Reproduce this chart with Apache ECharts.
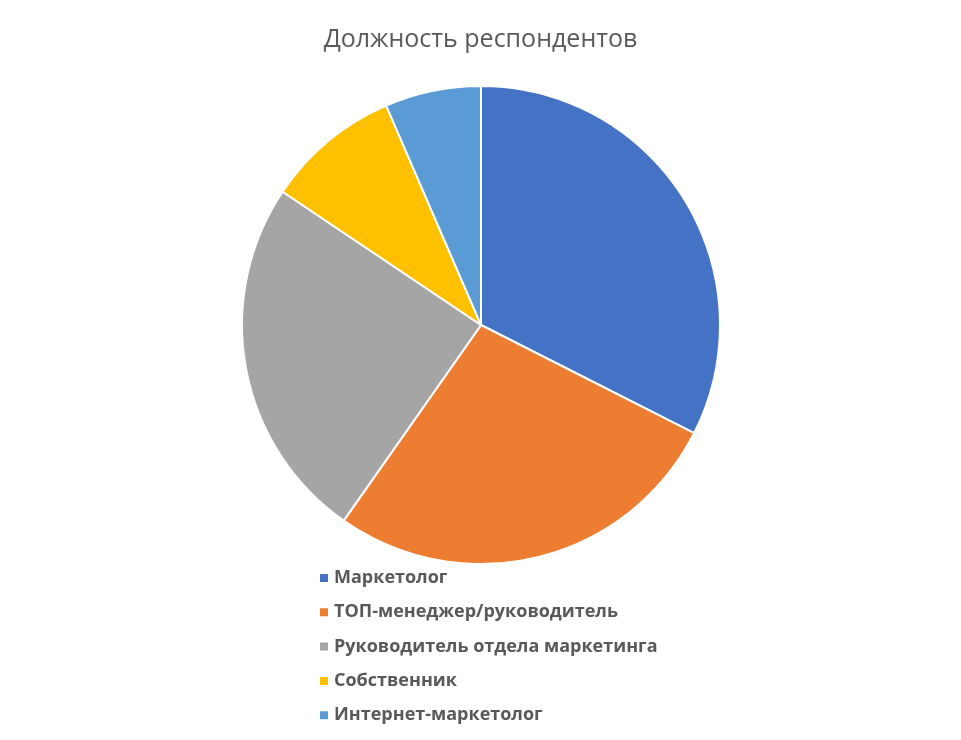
<!DOCTYPE html>
<html>
<head>
<meta charset="utf-8">
<script src="https://cdn.jsdelivr.net/npm/echarts@6/dist/echarts.min.js"></script>
<style>
  html, body { margin: 0; padding: 0; background: #fff; }
  #chart { width: 961px; height: 740px; }
</style>
</head>
<body>
<div id="chart"></div>
<script>
// Должность респондентов
const categories = ['Маркетолог', 'ТОП-менеджер/руководитель', 'Руководитель отдела маркетинга', 'Собственник', 'Интернет-маркетолог'];
const counts = [25, 21, 19, 7, 5];
const colors = ['#4472C4', '#ED7D31', '#A5A5A5', '#FFC000', '#5B9BD5'];

const chart = echarts.init(document.getElementById('chart'));
const option = {
    animation: false,
    title: {
        text: 'Должность респондентов',
        left: 'center',
        top: 22,
        textStyle: {
            fontFamily: 'Open Sans',
            fontSize: 25,
            fontWeight: 'normal',
            color: '#595959'
        }
    },
    legend: {
        orient: 'vertical',
        left: 313,
        top: 563,
        itemWidth: 10,
        itemHeight: 10,
        itemGap: 14.3,
        icon: 'rect',
        textStyle: {
            fontFamily: 'Open Sans',
            fontSize: 18,
            fontWeight: 'bold',
            color: '#595959',
            lineHeight: 20
        },
        data: categories
    },
    series: [
        {
            type: 'pie',
            center: [481, 325],
            radius: 239,
            startAngle: 90,
            clockwise: true,
            label: { show: false },
            labelLine: { show: false },
            itemStyle: {
                borderColor: '#fff',
                borderWidth: 2
            },
            data: categories.map((name, i) => ({
                name: name,
                value: counts[i],
                itemStyle: { color: colors[i] }
            }))
        }
    ]
};
chart.setOption(option);
</script>
</body>
</html>
